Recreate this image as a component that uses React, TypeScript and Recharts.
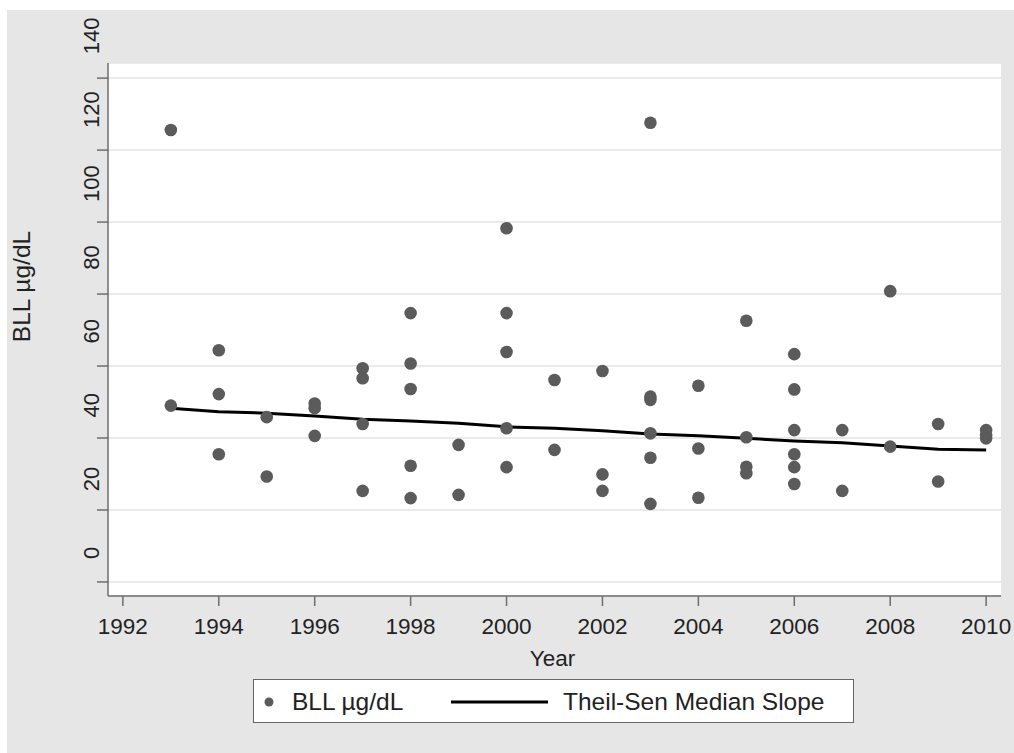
import { ComposedChart, Scatter, Line, XAxis, YAxis, CartesianGrid } from "recharts";

// BLL readings, one entry per dot
const bllYears = [
  1993, 1993,
  1994, 1994, 1994,
  1995, 1995,
  1996, 1996, 1996,
  1997, 1997, 1997, 1997,
  1998, 1998, 1998, 1998, 1998,
  1999, 1999,
  2000, 2000, 2000, 2000, 2000,
  2001, 2001,
  2002, 2002, 2002,
  2003, 2003, 2003, 2003, 2003, 2003,
  2004, 2004, 2004,
  2005, 2005, 2005, 2005,
  2006, 2006, 2006, 2006, 2006, 2006,
  2007, 2007,
  2008, 2008,
  2009, 2009,
  2010, 2010, 2010,
];
const bllValues = [
  125.6, 49.0,
  64.4, 52.2, 35.5,
  45.8, 29.3,
  49.6, 48.3, 40.6,
  59.4, 56.6, 43.9, 25.3,
  74.7, 60.7, 53.6, 32.3, 23.3,
  38.1, 24.2,
  98.3, 74.7, 63.9, 42.7, 31.9,
  56.1, 36.7,
  58.6, 29.9, 25.3,
  127.6, 51.5, 50.6, 41.3, 34.5, 21.7,
  54.5, 37.1, 23.4,
  72.6, 40.2, 32.0, 30.2,
  63.3, 53.5, 42.2, 35.5, 31.9, 27.2,
  42.2, 25.3,
  80.8, 37.6,
  43.9, 27.9,
  42.2, 40.8, 39.9,
];

// Theil-Sen median slope line
const trendYears = [1993, 1994, 1995, 1996, 1997, 1998, 1999, 2000, 2001, 2002, 2003, 2004, 2005, 2006, 2007, 2008, 2009, 2010];
const trendValues = [48.3, 47.3, 46.9, 46.1, 45.2, 44.7, 44.1, 43.1, 42.7, 42.0, 41.1, 40.6, 39.9, 39.2, 38.7, 37.8, 36.9, 36.7];

const xTicks = [1992, 1994, 1996, 1998, 2000, 2002, 2004, 2006, 2008, 2010];
const yTicks = [0, 20, 40, 60, 80, 100, 120, 140];

const FONT = "'Liberation Sans', Arial, Helvetica, sans-serif";

const bllData = bllYears.map((year, i) => ({ year, bll: bllValues[i] }));
const trendData = trendYears.map((year, i) => ({ year, trend: trendValues[i] }));

function YTick(props: any) {
  const { y, payload } = props;
  // labels sit a bit above their ticks, like in the original figure
  const ly = y - 29 - 1.9 * (payload.value / 20);
  return (
    <text x={92} y={ly} transform={`rotate(-90 92 ${ly})`} textAnchor="middle" fontSize={22} fill="#222" fontFamily={FONT}>
      {payload.value}
    </text>
  );
}

function Dot(props: any) {
  return <circle cx={props.cx} cy={props.cy} r={6.3} fill="#5b5b5b" />;
}

export default function App() {
  return (
    <div style={{ position: "absolute", left: 7, top: 10, width: 1007, height: 743, background: "#e6e6e6", fontFamily: FONT }}>
      <ComposedChart width={1007} height={743} margin={{ top: 53, right: 13, left: 0, bottom: 97 }}>
        <CartesianGrid vertical={false} stroke="#e3e3e3" strokeWidth={1.5} fill="#ffffff" />
        <XAxis
          type="number"
          dataKey="year"
          domain={[1991.69, 2010.31]}
          ticks={xTicks}
          allowDataOverflow
          height={60}
          tickSize={10}
          tickMargin={12}
          stroke="#6e6e6e"
          strokeWidth={1.5}
          tick={{ fontSize: 22.5, fill: "#222", fontFamily: FONT }}
          label={(p: any) => (
            <text x={p.viewBox.x + p.viewBox.width / 2 - 2} y={p.viewBox.y + 70} textAnchor="middle" fontSize={22.5} fill="#222" fontFamily={FONT}>
              Year
            </text>
          )}
        />
        <YAxis
          type="number"
          domain={[-3.9, 144.2]}
          ticks={yTicks}
          allowDataOverflow
          width={101}
          tickSize={11}
          stroke="#6e6e6e"
          strokeWidth={1.5}
          tick={<YTick />}
          label={(p: any) => {
            const cy = p.viewBox.y + p.viewBox.height / 2 - 43;
            return (
              <text x={23} y={cy} transform={`rotate(-90 23 ${cy})`} textAnchor="middle" fontSize={24.5} fill="#222" fontFamily={FONT}>
                BLL µg/dL
              </text>
            );
          }}
        />
        <Scatter data={bllData} dataKey="bll" shape={<Dot />} isAnimationActive={false} />
        <Line data={trendData} dataKey="trend" type="linear" stroke="#000" strokeWidth={3} dot={false} activeDot={false} isAnimationActive={false} />
      </ComposedChart>
      <div style={{ position: "absolute", left: 246, top: 669, width: 601, height: 44, background: "#fff", border: "1px solid #666", boxSizing: "border-box" }}>
        <svg width={599} height={42} style={{ display: "block" }}>
          <circle cx={15} cy={22} r={4.5} fill="#5b5b5b" />
          <text x={38} y={30} fontSize={24.5} fill="#222" fontFamily={FONT}>BLL µg/dL</text>
          <line x1={197} x2={294} y1={22} y2={22} stroke="#000" strokeWidth={3} />
          <text x={309} y={30} fontSize={24.5} fill="#222" fontFamily={FONT}>Theil-Sen Median Slope</text>
        </svg>
      </div>
    </div>
  );
}
